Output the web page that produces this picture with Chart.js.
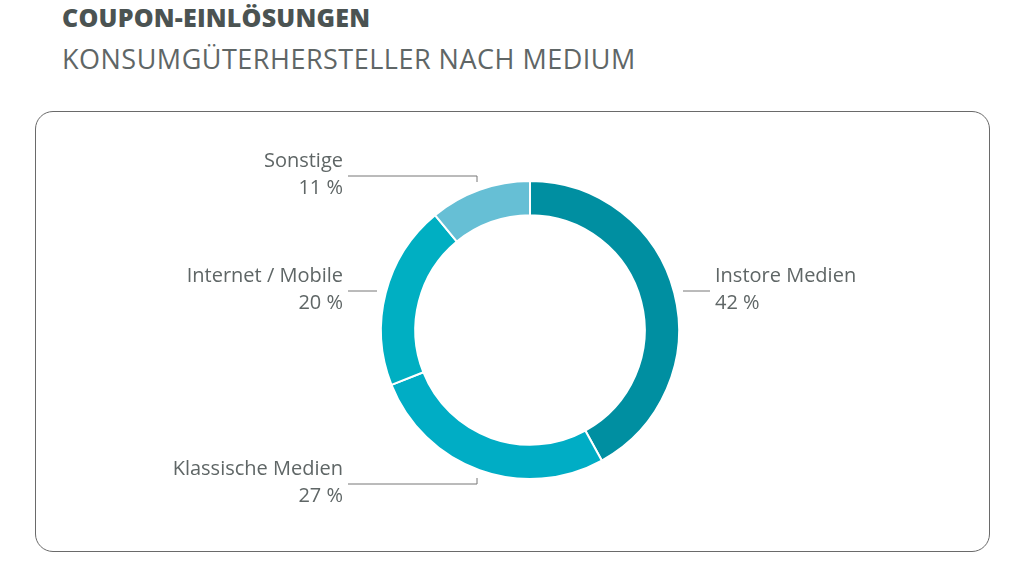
<!DOCTYPE html>
<html><head><meta charset="utf-8">
<script src="https://cdn.jsdelivr.net/npm/chart.js@4"></script>
<style>
body{margin:0;width:1024px;height:576px;background:#fff;font-family:"Open Sans",sans-serif;position:relative;overflow:hidden}
h1{position:absolute;left:62px;top:0;margin:0;font-size:25px;font-weight:800;color:#4b5352;letter-spacing:0.2px}
h2{position:absolute;left:62px;top:40px;margin:0;font-size:27px;font-weight:400;color:#5f6666;letter-spacing:0.5px}
.frame{position:absolute;left:35px;top:111px;width:953px;height:439px;border:1.5px solid #6a6a6a;border-radius:18px}
canvas{position:absolute;left:0;top:0}
</style></head><body>
<h1>COUPON-EINLÖSUNGEN</h1>
<h2>KONSUMGÜTERHERSTELLER NACH MEDIUM</h2>
<div class="frame"></div>
<div style="position:absolute;left:0;top:0;width:1024px;height:576px"><canvas id="c"></canvas></div>
<script>
const labels = ['Instore Medien', 'Klassische Medien', 'Internet / Mobile', 'Sonstige'];
const values = [42, 27, 20, 11];
const colors = ['#008fa1', '#00adc5', '#00afc2', '#66bfd5'];

// label placement: text anchor x, text top y, line [x1,y1,x2,y2] and optional tick end y
const labelLayout = [
  { x: 715, y: 266, align: 'left', line: [683, 291, 710, 291] },
  { x: 343, y: 459, align: 'right', line: [348, 484, 477, 484], tick: 478 },
  { x: 343, y: 266, align: 'right', line: [348, 291, 377, 291] },
  { x: 343, y: 151, align: 'right', line: [348, 176, 477, 176], tick: 182 }
];

const calloutPlugin = {
  id: 'callouts',
  afterDraw(chart) {
    const ctx = chart.ctx;
    ctx.save();
    ctx.strokeStyle = '#777';
    ctx.lineWidth = 1;
    ctx.fillStyle = '#5f6666';
    ctx.font = '20px "Open Sans"';
    ctx.textBaseline = 'top';
    labels.forEach((name, i) => {
      const l = labelLayout[i];
      ctx.beginPath();
      ctx.moveTo(l.line[0], l.line[1]);
      ctx.lineTo(l.line[2], l.line[3]);
      if (l.tick) ctx.lineTo(l.line[2], l.tick);
      ctx.stroke();
      ctx.textAlign = l.align;
      ctx.fillText(name, l.x, l.y);
      ctx.fillText(values[i] + ' %', l.x, l.y + 27);
    });
    ctx.restore();
  }
};

new Chart(document.getElementById('c'), {
  type: 'doughnut',
  data: { labels: labels, datasets: [{ data: values, backgroundColor: colors, borderColor: '#fff', borderWidth: 2 }] },
  options: {
    responsive: true, maintainAspectRatio: false, animation: false,
    cutout: '77%',
    layout: { padding: { left: 380, right: 344, top: 180, bottom: 96 } },
    plugins: { legend: { display: false }, tooltip: { enabled: false } }
  },
  plugins: [calloutPlugin]
});
</script>
</body></html>
